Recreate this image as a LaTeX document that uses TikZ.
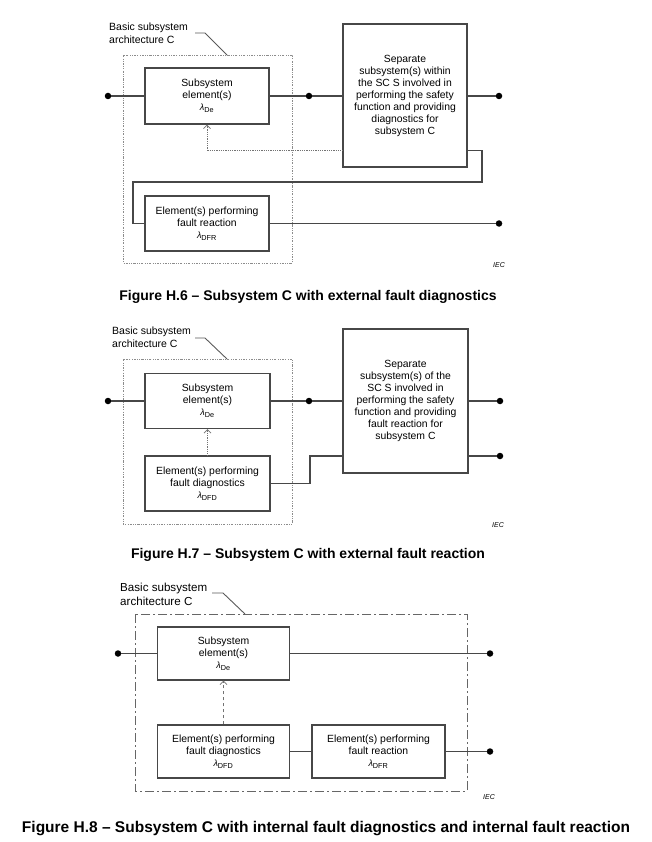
\documentclass[tikz,border=0pt]{standalone}
\usepackage{fontspec}
\setmainfont{Liberation Sans}
\usetikzlibrary{arrows.meta}

\tikzset{
  blk/.style={draw=black!72, line width=1.1pt, fill=white, align=center, inner sep=0pt, font=\fontsize{10.4}{12}\selectfont},
  wire/.style={draw=black!72, line width=1.1pt},
  dot/.style={circle, fill=black, inner sep=0pt, minimum size=6.5pt},
  frm/.style={draw=black!45, line width=0.9pt, dash pattern=on 2.2pt off 1.4pt on 0.7pt off 1.4pt on 0.7pt off 1.4pt},
  frmlong/.style={draw=black!60, line width=0.8pt, dash pattern=on 9pt off 3pt on 2pt off 3pt},
  leader/.style={draw=black!65, line width=0.9pt},
  diag/.style={draw=black!55, line width=0.8pt, -{Straight Barb[length=3.5pt,width=7pt,line width=0.8pt]}},
  lbl/.style={align=left, anchor=north west, inner sep=0pt, font=\fontsize{10.5}{13}\selectfont},
  iec/.style={font=\fontsize{7}{8}\selectfont\itshape, inner sep=0pt},
  figcap/.style={font=\fontsize{14}{16}\selectfont\bfseries, inner sep=0pt}
}
\newcommand{\lam}[1]{{\fontsize{9}{10}\selectfont\itshape λ}\textsubscript{#1}}

\begin{document}
\begin{tikzpicture}[x=1pt, y=-1pt]
\useasboundingbox (0,0) rectangle (651,842);

% Figure H.6
\draw[frm] (123,55) rectangle (292,263);
\node[lbl] (lblA) at (109,23) {Basic subsystem\\architecture C};
\coordinate (tagA) at (195,33);
\coordinate (kneeA) at (205,33);
\coordinate (tipA) at (227,55);
\draw[leader] (tagA) -- (kneeA) -- (tipA);

\node[blk, minimum width=124pt, minimum height=56pt] (subA) at (207,96) {Subsystem\\element(s)\\\lam{De}};
\node[blk, minimum width=124pt, minimum height=55pt] (frA) at (207,223.5) {Element(s) performing\\fault reaction\\\lam{DFR}};
\node[blk, minimum width=124pt, minimum height=143pt] (sepA) at (405,95.5) {Separate\\subsystem(s) within\\the SC S involved in\\performing the safety\\function and providing\\diagnostics for\\subsystem C};

\node[dot] (inA) at (108,96) {};
\node[dot] (midA) at (309,96) {};
\node[dot] (outA) at (499,96) {};
\node[dot] (frOutA) at (499,223.5) {};
\coordinate (loopA) at (482,182);
\coordinate (backA) at (133,182);

\draw[wire] (inA) -- (subA.west);
\draw[wire] (subA.east) -- (midA) -- (midA -| sepA.west);
\draw[wire] (sepA.east |- outA) -- (outA);
\draw[diag, densely dotted] ([yshift=17pt]sepA.south west) -| (subA.south);
\draw[wire] ([yshift=17pt]sepA.south east) -| (loopA) -- (backA) |- (frA.west);
\draw[wire] (frA.east) -- (frOutA);
\node[iec] (iecA) at (499,265) {IEC};
\node[figcap] (capA) at (308,297) {Figure H.6 – Subsystem C with external fault diagnostics};

% Figure H.7
\draw[frm] (123,359) rectangle (292,524);
\node[lbl] (lblB) at (112,327) {Basic subsystem\\architecture C};
\coordinate (tagB) at (195,338);
\coordinate (kneeB) at (205,338);
\coordinate (tipB) at (227,359);
\draw[leader] (tagB) -- (kneeB) -- (tipB);

\node[blk, minimum width=125pt, minimum height=55pt] (subB) at (207.5,401) {Subsystem\\element(s)\\\lam{De}};
\node[blk, minimum width=125pt, minimum height=55pt] (fdB) at (207.5,483.5) {Element(s) performing\\fault diagnostics\\\lam{DFD}};
\node[blk, minimum width=125pt, minimum height=144pt] (sepB) at (405.5,401) {Separate\\subsystem(s) of the\\SC S involved in\\performing the safety\\function and providing\\fault reaction for\\subsystem C};

\node[dot] (inB) at (108,401) {};
\node[dot] (midB) at (309,401) {};
\node[dot] (out1B) at (500,401) {};
\node[dot] (out2B) at (500,456) {};
\coordinate (stepB) at (310,456);

\draw[wire] (inB) -- (subB.west);
\draw[wire] (subB.east) -- (midB) -- (midB -| sepB.west);
\draw[wire] (sepB.east |- out1B) -- (out1B);
\draw[wire] (sepB.east |- out2B) -- (out2B);
\draw[diag, densely dotted] (fdB.north) -- (subB.south);
\draw[wire] (fdB.east) -| (stepB) -- (stepB -| sepB.west);
\node[iec] (iecB) at (498,525) {IEC};
\node[figcap] (capB) at (308,555) {Figure H.7 – Subsystem C with external fault reaction};

% Figure H.8
\draw[frmlong] (135,614) rectangle (467,791);
\node[lbl, font=\fontsize{11.6}{13.5}\selectfont] (lblC) at (120,583) {Basic subsystem\\architecture C};
\coordinate (tagC) at (212,593);
\coordinate (kneeC) at (223,593);
\coordinate (tipC) at (245,614);
\draw[leader] (tagC) -- (kneeC) -- (tipC);

\node[blk, minimum width=132pt, minimum height=53pt] (subC) at (223.5,653.5) {Subsystem\\element(s)\\\lam{De}};
\node[blk, minimum width=132pt, minimum height=53pt] (fdC) at (223.5,751.5) {Element(s) performing\\fault diagnostics\\\lam{DFD}};
\node[blk, minimum width=133pt, minimum height=53pt] (frC) at (378.5,751.5) {Element(s) performing\\fault reaction\\\lam{DFR}};

\node[dot] (inC) at (118,653.5) {};
\node[dot] (outC) at (490,653.5) {};
\node[dot] (frOutC) at (490,751.5) {};

\draw[wire] (inC) -- (subC.west);
\draw[wire] (subC.east) -- (outC);
\draw[diag, dashed] (fdC.north) -- (subC.south);
\draw[wire] (fdC.east) -- (frC.west);
\draw[wire] (frC.east) -- (frOutC);
\node[iec] (iecC) at (489,797) {IEC};
\node[figcap, font=\fontsize{15.5}{17}\selectfont\bfseries] (capC) at (326,829) {Figure H.8 – Subsystem C with internal fault diagnostics and internal fault reaction};

\end{tikzpicture}
\end{document}
